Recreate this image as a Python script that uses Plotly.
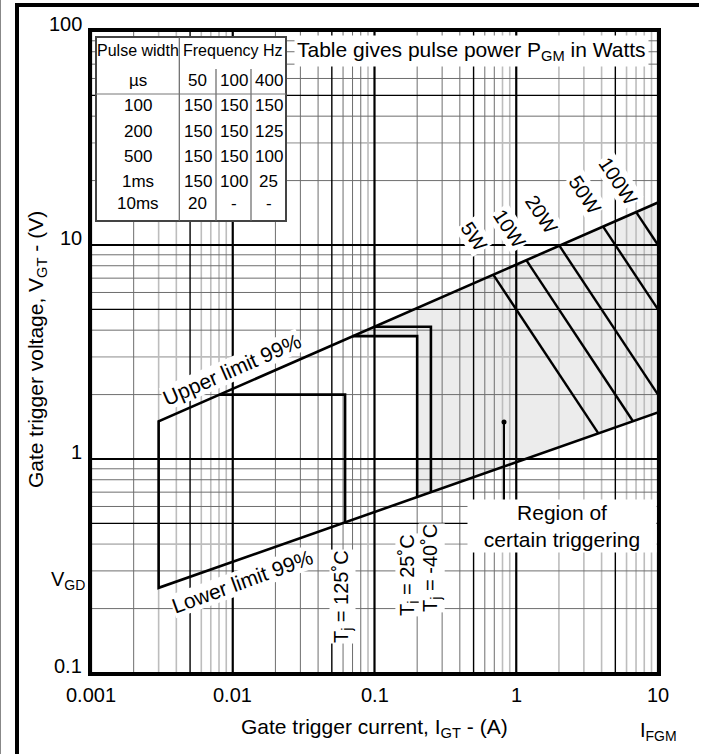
import math
import plotly.graph_objects as go

# ---------------- data ----------------
x_tick_vals = [0.001, 0.01, 0.1, 1, 10]
x_tick_text = ["0.001", "0.01", "0.1", "1", "10"]
y_tick_vals = [0.1, 1, 10, 100]
y_tick_text = ["0.1", "1", "10", "100"]

# grid lines (styled groups)
x_major = [0.001, 0.01, 0.1, 1, 10]
x_mid = [0.005, 0.05, 0.5, 5]
x_dark = [0.002, 0.02, 0.03, 0.04, 0.06, 0.07, 0.08, 0.2, 0.3, 0.4, 0.6, 0.7]
x_light = [0.003, 0.004, 0.006, 0.007, 0.008, 0.009, 0.09, 0.8, 0.9, 2, 3, 4, 6, 7, 8, 9]
y_major = [0.1, 1, 10, 100]
y_mid = [0.5, 5, 50]
y_dark = [0.2, 0.3, 0.6, 0.7, 0.8, 0.9, 2, 4, 6, 7, 8, 9, 20, 40, 60, 70, 80, 90]
y_light = [0.4, 3, 30]

# limit lines (I in A, V in V)
upper_I = [0.003, 10]
upper_V = [1.5, 15.8]
lower_I = [0.003, 10]
lower_V = [0.25, 1.65]

# Tj boxes: corner (I_GT, V_GT)
box_temp = ["125", "25", "-40"]
box_I = [0.062, 0.2, 0.25]
box_V = [2.0, 3.75, 4.15]

# pulse power lines
power_W = [5, 10, 20, 50, 100]
power_text = ["5W", "10W", "20W", "50W", "100W"]
power_label_I = [0.50, 0.889, 1.5, 3.05, 5.22]
power_label_V = [11.0, 12.0, 13.96, 17.1, 19.9]

# table
pulse_widths = ["100", "200", "500", "1ms", "10ms"]
freqs = ["50", "100", "400"]
table_power = [["150", "150", "150"],
               ["150", "150", "125"],
               ["150", "150", "100"],
               ["150", "100", "25"],
               ["20", "-", "-"]]

# label anchor points (I, V)
upper_label = (0.00988, 2.61)
lower_label = (0.01162, 0.269)
tj_label_I = [0.059, 0.172, 0.2547]
tj_label_V = [0.2265, 0.287, 0.31]
region_label = (2.10, 0.484)
pointer_I = [0.82, 0.82]
pointer_V = [1.49, 0.56]
V_GD = 0.25
I_FGM = 10

FONT = "Liberation Sans, Arial, Helvetica, sans-serif"
L = math.log10


# ------------- helpers ------------------
def line_fn(Is, Vs):
    s = (L(Vs[1]) - L(Vs[0])) / (L(Is[1]) - L(Is[0]))
    return s, L(Is[0]), L(Vs[0])


su, ui0, uv0 = line_fn(upper_I, upper_V)
sl, li0, lv0 = line_fn(lower_I, lower_V)


def lower_at(i):
    return 10 ** (lv0 + sl * (L(i) - li0))


def upper_I_at_V(v):
    return 10 ** (ui0 + (L(v) - uv0) / su)


def hyper_cross(P, s, i0, v0):
    return 10 ** ((L(P) - v0 + s * i0) / (1 + s))


def grid_xy(vals, vertical):
    xs, ys = [], []
    for v in vals:
        if vertical:
            xs += [v, v, None]
            ys += [0.1, 100, None]
        else:
            xs += [0.001, 10, None]
            ys += [v, v, None]
    return xs, ys


fig = go.Figure()

# shaded region of certain triggering (outside the 25 C box)
i_start = upper_I_at_V(box_V[1])
fx = [i_start, upper_I[1], lower_I[1], box_I[1], box_I[1], i_start]
fy = [box_V[1], upper_V[1], lower_V[1], lower_at(box_I[1]), box_V[1], box_V[1]]
fig.add_trace(go.Scatter(x=fx, y=fy, mode="lines", fill="toself",
                         fillcolor="#ececec", line=dict(width=0),
                         hoverinfo="skip", showlegend=False))

# grid
styles = [
    (x_light, True, "#bdbdbd", 1.6),
    (y_light, False, "#bdbdbd", 1.6),
    (x_dark, True, "#6e6e6e", 1.0),
    (y_dark, False, "#6e6e6e", 1.0),
    (x_mid, True, "#000000", 1.4),
    (y_mid, False, "#000000", 1.4),
    (x_major, True, "#000000", 2.2),
    (y_major, False, "#000000", 2.2),
]
for vals, vert, col, w in styles:
    gx, gy = grid_xy(vals, vert)
    fig.add_trace(go.Scatter(x=gx, y=gy, mode="lines",
                             line=dict(color=col, width=w),
                             hoverinfo="skip", showlegend=False))

# limit lines
fig.add_trace(go.Scatter(
    x=[upper_I[1], upper_I[0], lower_I[0], lower_I[1]],
    y=[upper_V[1], upper_V[0], lower_V[0], lower_V[1]],
    mode="lines", line=dict(color="black", width=2.6),
    hoverinfo="skip", showlegend=False))

# Tj boxes
for bi, bv in zip(box_I, box_V):
    fig.add_trace(go.Scatter(
        x=[upper_I_at_V(bv), bi, bi],
        y=[bv, bv, lower_at(bi)],
        mode="lines", line=dict(color="black", width=2.6),
        hoverinfo="skip", showlegend=False))

# power lines
for P in power_W:
    i1 = hyper_cross(P, su, ui0, uv0)
    i2 = hyper_cross(P, sl, li0, lv0)
    if i2 > lower_I[1]:
        i2 = lower_I[1]
    fig.add_trace(go.Scatter(x=[i1, i2], y=[P / i1, P / i2], mode="lines",
                             line=dict(color="black", width=2.4),
                             hoverinfo="skip", showlegend=False))

# pointer
fig.add_trace(go.Scatter(x=pointer_I, y=pointer_V, mode="lines",
                         line=dict(color="black", width=2),
                         hoverinfo="skip", showlegend=False))
fig.add_trace(go.Scatter(x=[pointer_I[0]], y=[pointer_V[0]], mode="markers",
                         marker=dict(color="black", size=5),
                         hoverinfo="skip", showlegend=False))

# ------------- layout geometry -------------
W, H = 701, 754
ML, MR, MT, MB = 91, 43, 31, 81
PW, PH = W - ML - MR, H - MT - MB


def px(xp):
    return (xp - ML) / PW


def py(yp):
    return (H - MB - yp) / PH


ann = []
shapes = []


def note(**kw):
    kw.setdefault("showarrow", False)
    kw.setdefault("xanchor", "center")
    kw.setdefault("yanchor", "middle")
    ann.append(kw)


# tick labels
for v, t in zip(x_tick_vals, x_tick_text):
    note(x=L(v), y=0, xref="x", yref="paper", text=t,
         yshift=-22, font=dict(size=20))
for v, t in zip(y_tick_vals, y_tick_text):
    note(x=0, y=L(v), xref="paper", yref="y", text=t, xanchor="right",
         xshift=-7, yshift=7, font=dict(size=20))
note(x=0, y=L(V_GD), xref="paper", yref="y", text="V<sub>GD</sub>",
     xanchor="right", xshift=-4, yshift=7, font=dict(size=20))
note(x=L(I_FGM), y=0, xref="x", yref="paper", text="I<sub>FGM</sub>",
     yshift=-58, font=dict(size=20))

# axis titles
note(x=0.5, y=0, xref="paper", yref="paper",
     text="Gate trigger current, I<sub>GT</sub> - (A)",
     yshift=-55, font=dict(size=21))
note(x=px(37), y=py(350), xref="paper", yref="paper",
     text="Gate trigger voltage, V<sub>GT</sub> - (V)",
     textangle=-90, font=dict(size=21))

# curve labels
note(x=L(upper_label[0]), y=L(upper_label[1]), xref="x", yref="y",
     text="Upper limit 99%", textangle=-23.7, bgcolor="white", borderpad=0,
     font=dict(size=21))
note(x=L(lower_label[0]), y=L(lower_label[1]), xref="x", yref="y",
     text="Lower limit 99%", textangle=-20, bgcolor="white", borderpad=0,
     font=dict(size=21))
for t, i, v in zip(box_temp, tj_label_I, tj_label_V):
    note(x=L(i), y=L(v), xref="x", yref="y", text="T<sub>j</sub> = " + t + "˚C",
         textangle=-90, bgcolor="white", borderpad=0, font=dict(size=20))
for t, i, v in zip(power_text, power_label_I, power_label_V):
    note(x=L(i), y=L(v), xref="x", yref="y", text=t, textangle=56.5,
         bgcolor="white", borderpad=1, font=dict(size=20))
note(x=L(region_label[0]), y=L(region_label[1]), xref="x", yref="y",
     text="Region of<br>certain triggering",
     bgcolor="white", width=186, height=50, font=dict(size=21))

# power table title
note(x=px(471), y=py(50.5), xref="paper", yref="paper",
     text="Table gives pulse power P<sub>GM</sub> in Watts",
     bgcolor="white", borderpad=2, font=dict(size=21))

# table frame
T_L, T_R, T_T, T_B = 96, 286, 37, 221
C1, C2, C3 = 179.3, 216, 251
shapes.append(dict(type="rect", xref="paper", yref="paper",
                   x0=px(T_L), x1=px(T_R), y0=py(T_B), y1=py(T_T),
                   fillcolor="white", line=dict(color="#444", width=2),
                   layer="above"))
shapes.append(dict(type="line", xref="paper", yref="paper",
                   x0=px(C1), x1=px(C1), y0=py(T_B), y1=py(T_T),
                   line=dict(color="#666", width=1.2), layer="above"))
for cx in (C2, C3):
    shapes.append(dict(type="line", xref="paper", yref="paper",
                       x0=px(cx), x1=px(cx), y0=py(T_B), y1=py(69),
                       line=dict(color="#666", width=1.2), layer="above"))
shapes.append(dict(type="line", xref="paper", yref="paper",
                   x0=px(T_L), x1=px(T_R), y0=py(94), y1=py(94),
                   line=dict(color="#777", width=1), layer="above"))

tfont = dict(size=17)
col_pw = (T_L + C1) / 2
col_f = [(C1 + C2) / 2, (C2 + C3) / 2, (C3 + T_R) / 2]
note(x=px(col_pw), y=py(50.7), xref="paper", yref="paper",
     text="Pulse width", font=dict(size=16))
note(x=px((C1 + T_R) / 2), y=py(50.7), xref="paper", yref="paper",
     text="Frequency Hz", font=dict(size=16))
note(x=px(col_pw), y=py(80.7), xref="paper", yref="paper",
     text="µs", font=tfont)
for f, cx in zip(freqs, col_f):
    note(x=px(cx), y=py(80.7), xref="paper", yref="paper", text=f, font=tfont)
row_y = [106, 131, 156.5, 181.5, 204]
for pw, row, ry in zip(pulse_widths, table_power, row_y):
    note(x=px(col_pw), y=py(ry), xref="paper", yref="paper", text=pw, font=tfont)
    for val, cx in zip(row, col_f):
        note(x=px(cx), y=py(ry), xref="paper", yref="paper", text=val, font=tfont)

# outer page frame
shapes.append(dict(type="line", xref="paper", yref="paper",
                   x0=px(15), x1=px(699), y0=py(5), y1=py(5),
                   line=dict(color="black", width=4), layer="above"))
shapes.append(dict(type="line", xref="paper", yref="paper",
                   x0=px(17), x1=px(17), y0=py(3), y1=py(754),
                   line=dict(color="black", width=4), layer="above"))
shapes.append(dict(type="line", xref="paper", yref="paper",
                   x0=px(0.5), x1=px(0.5), y0=py(0), y1=py(754),
                   line=dict(color="#888", width=1), layer="above"))

axis_common = dict(type="log", showgrid=False, zeroline=False,
                   showticklabels=False, ticks="", showline=True,
                   linecolor="black", linewidth=2.6, mirror=True)

fig.update_layout(
    width=W, height=H,
    margin=dict(l=ML, r=MR, t=MT, b=MB, pad=0),
    paper_bgcolor="white", plot_bgcolor="white",
    font=dict(family=FONT, color="black", size=20),
    xaxis=dict(range=[-3, 1], **axis_common),
    yaxis=dict(range=[-1, 2], **axis_common),
    annotations=ann, shapes=shapes, showlegend=False,
)

fig.write_html("out.html")
